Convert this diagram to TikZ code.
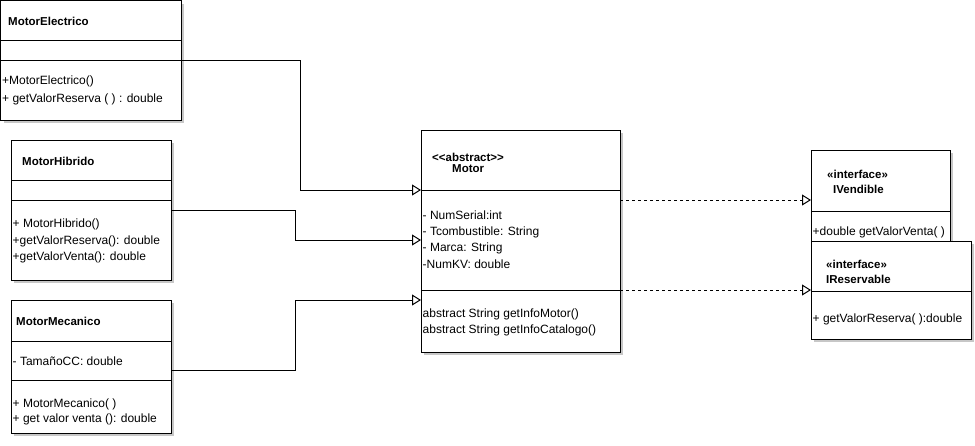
\documentclass[tikz,border=0pt]{standalone}
\usepackage{fontspec}
\setmainfont{Liberation Sans}
\usetikzlibrary{arrows.meta,calc}
\begin{document}
\begin{tikzpicture}[x=1pt,y=-1pt,
  box/.style={draw=black,line width=1pt,fill=white,anchor=north west,inner sep=0,outer sep=0},
  shade/.style={fill=black!22},
  txt/.style={anchor=west,inner sep=0,font=\fontsize{12}{14}\selectfont},
  bold/.style={txt,font=\fontsize{11.5}{13}\selectfont\bfseries},
  sep/.style={line width=1pt},
  gen/.style={line width=1pt,-{Triangle[open,length=9pt,width=11pt,line width=1pt]}},
  real/.style={gen,dash pattern=on 3pt off 3pt}]
\useasboundingbox (0,0) rectangle (975,445);
% shadows
\fill[shade] (3.5,3.5) rectangle (184,123);
\fill[shade] (14,143) rectangle (174,283);
\fill[shade] (14,303) rectangle (174,436);
\fill[shade] (424,133) rectangle (623,355);
\fill[shade] (814,153) rectangle (953,248);
\fill[shade] (814,244) rectangle (974,342);
% boxes
\node[box,minimum width=180.5pt,minimum height=119.5pt] (me) at (0.5,0.5) {};
\node[box,minimum width=160pt,minimum height=140pt] (mh) at (11,140) {};
\node[box,minimum width=160pt,minimum height=133pt] (mm) at (11,300) {};
\node[box,minimum width=199pt,minimum height=222pt] (motor) at (421,130) {};
\node[box,minimum width=139pt,minimum height=100pt] (iv) at (811,150) {};
% separators
\draw[sep] ([yshift=-40pt]me.north west) -- ([yshift=-40pt]me.north east);
\draw[sep] ([yshift=-60pt]me.north west) -- ([yshift=-60pt]me.north east);
\draw[sep] ([yshift=-40pt]mh.north west) -- ([yshift=-40pt]mh.north east);
\draw[sep] ([yshift=-60pt]mh.north west) -- ([yshift=-60pt]mh.north east);
\draw[sep] ([yshift=-41pt]mm.north west) -- ([yshift=-41pt]mm.north east);
\draw[sep] ([yshift=-80pt]mm.north west) -- ([yshift=-80pt]mm.north east);
\draw[sep] ([yshift=-60pt]motor.north west) -- ([yshift=-60pt]motor.north east);
\draw[sep] ([yshift=-160pt]motor.north west) -- ([yshift=-160pt]motor.north east);
\draw[sep] ([yshift=-61pt]iv.north west) -- ([yshift=-61pt]iv.north east);
% texts MotorElectrico
\node[bold] (met) at (8,21) {MotorElectrico};
\node[txt] (me1) at (2,81) {+MotorElectrico()};
\node[txt] (me2) at (2,99) {+ getValorReserva ( ) : double};
% MotorHibrido
\node[bold] (mht) at (22,161) {MotorHibrido};
\node[txt] (mh1) at (12.5,224) {+ MotorHibrido()};
\node[txt] (mh2) at (12.5,241) {+getValorReserva(): double};
\node[txt] (mh3) at (12.5,257) {+getValorVenta(): double};
% MotorMecanico
\node[bold] (mmt) at (16,321) {MotorMecanico};
\node[txt] (mm1) at (12.5,361) {- TamañoCC: double};
\node[txt] (mm2) at (12.5,404) {+ MotorMecanico( )};
\node[txt] (mm3) at (12.5,419) {+ get valor venta (): double};
% Motor
\node[bold] (mst) at (432,157) {{<}{<}abstract{>}{>}};
\node[bold] (mot) at (452,169) {Motor};
\node[txt] (ma1) at (422.5,215) {- NumSerial:int};
\node[txt] (ma2) at (422.5,232) {- Tcombustible: String};
\node[txt] (ma3) at (422.5,248) {- Marca: String};
\node[txt] (ma4) at (422.5,264) {-NumKV: double};
\node[txt] (mo1) at (422.5,314) {abstract String getInfoMotor()};
\node[txt] (mo2) at (422.5,330) {abstract String getInfoCatalogo()};
% IVendible
\node[bold] (ivs) at (827,174) {«interface»};
\node[bold] (ivt) at (833,189) {IVendible};
\node[txt] (iv1) at (812.5,232) {+double getValorVenta( )};
% IReservable (drawn over IVendible)
\fill[shade] (814,244) rectangle (974,342);
\node[box,minimum width=160pt,minimum height=98pt] (ir) at (811,241) {};
\draw[sep] ([yshift=-50pt]ir.north west) -- ([yshift=-50pt]ir.north east);
\node[bold] (irs) at (826,264) {«interface»};
\node[bold] (irt) at (826,279) {IReservable};
\node[txt] (ir1) at (812.5,319) {+ getValorReserva( ):double};
% connectors
\coordinate (m1) at ([yshift=-60pt]motor.north west);
\coordinate (m2) at ([yshift=-110pt]motor.north west);
\coordinate (m3) at ([yshift=-170pt]motor.north west);
\draw[gen] ([yshift=-60pt]me.north east) -- ++(119.5,0) |- (m1);
\draw[gen] ([yshift=-70pt]mh.north east) -- ++(124,0) |- (m2);
\draw[gen] ([yshift=-70pt]mm.north east) -- ++(124,0) |- (m3);
\draw[real] ([yshift=-70pt]motor.north east) -- ([yshift=-50pt]iv.north west);
\draw[real] ([yshift=-160pt]motor.north east) -- ([yshift=-49pt]ir.north west);
\end{tikzpicture}
\end{document}
